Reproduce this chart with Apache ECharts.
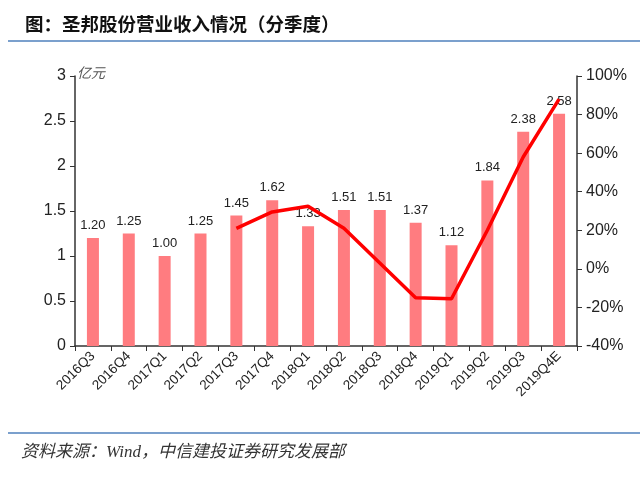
<!DOCTYPE html>
<html>
<head>
<meta charset="utf-8">
<script src="https://cdn.jsdelivr.net/npm/echarts@6/dist/echarts.min.js"></script>
<style>
  html, body { margin: 0; padding: 0; background: #fff; }
  #main { width: 640px; height: 490px; }
</style>
</head>
<body>
<div id="main"></div>
<script>
// 季度
var quarters = ['2016Q3', '2016Q4', '2017Q1', '2017Q2', '2017Q3', '2017Q4', '2018Q1',
  '2018Q2', '2018Q3', '2018Q4', '2019Q1', '2019Q2', '2019Q3', '2019Q4E'];
// 营业收入（亿元）
var revenue = [1.20, 1.25, 1.00, 1.25, 1.45, 1.62, 1.33, 1.51, 1.51, 1.37, 1.12, 1.84, 2.38, 2.58];
// 同比增速（%）
var yoy = [null, null, null, null, 21, 29.5, 32.5, 21, 3, -15, -15.5, 20, 58, 88];

var myChart = echarts.init(document.getElementById('main'));
var axisColor = '#333';
var lineBlue = '#4f81bd';

myChart.setOption({
  animation: false,
  title: {
    text: '图：圣邦股份营业收入情况（分季度）',
    left: 20,
    top: 10,
    textStyle: { fontSize: 18.5, fontWeight: 'bold', color: '#111', fontFamily: 'Noto Sans CJK SC' }
  },
  grid: { left: 75, right: 63, top: 76, bottom: 144 },
  xAxis: {
    type: 'category',
    data: quarters,
    axisLine: { lineStyle: { color: axisColor, width: 1.5 } },
    axisTick: { show: true, length: 5, lineStyle: { color: axisColor } },
    axisLabel: { rotate: 45, fontSize: 13.5, color: '#222', fontFamily: 'Liberation Sans', margin: 8, interval: 0 }
  },
  yAxis: [{
    type: 'value',
    min: 0,
    max: 3,
    interval: 0.5,
    splitLine: { show: false },
    axisLine: { show: true, lineStyle: { color: axisColor, width: 1.5 } },
    axisTick: { show: true, length: 5, lineStyle: { color: axisColor } },
    axisLabel: { fontSize: 16, color: '#222', fontFamily: 'Liberation Sans', margin: 9 }
  }, {
    type: 'value',
    min: -40,
    max: 100,
    interval: 20,
    splitLine: { show: false },
    axisLine: { show: true, lineStyle: { color: axisColor, width: 1.5 } },
    axisTick: { show: true, length: 5, lineStyle: { color: axisColor } },
    axisLabel: { formatter: '{value}%', fontSize: 16, color: '#222', fontFamily: 'Liberation Sans', margin: 9 }
  }],
  graphic: [
    { type: 'line', shape: { x1: 8, y1: 41, x2: 640, y2: 41 }, style: { stroke: lineBlue, lineWidth: 1.5 } },
    { type: 'line', shape: { x1: 8, y1: 433, x2: 640, y2: 433 }, style: { stroke: lineBlue, lineWidth: 1.5 } },
    { type: 'text', left: 77, top: 66,
      style: { text: '亿元', fontSize: 14, fill: '#555', fontStyle: 'italic', fontFamily: 'Noto Sans CJK SC' } },
    { type: 'text', left: 21, top: 444,
      style: { text: '资料来源：Wind，中信建投证券研究发展部', fontSize: 17, fill: '#333',
        fontStyle: 'italic', fontFamily: 'Liberation Serif, Noto Sans CJK SC' } }
  ],
  series: [{
    name: '营业收入',
    type: 'bar',
    data: revenue,
    barWidth: 12,
    itemStyle: { color: '#ff7c80' },
    label: {
      show: true,
      position: 'top',
      distance: 6,
      fontSize: 13,
      color: '#222',
      fontFamily: 'Liberation Sans',
      formatter: function (p) { return p.value.toFixed(2); }
    }
  }, {
    name: '同比',
    type: 'line',
    yAxisIndex: 1,
    data: yoy,
    symbol: 'none',
    z: 5,
    lineStyle: { color: '#ff0000', width: 3.5 }
  }]
});
</script>
</body>
</html>
